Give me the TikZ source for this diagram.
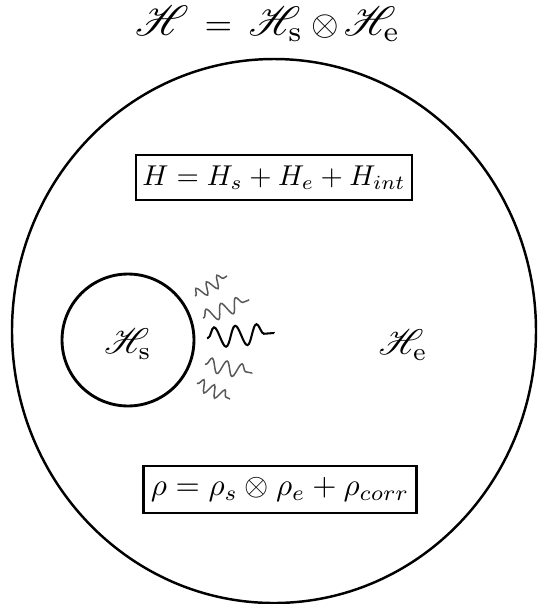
\documentclass[tikz,border=0pt]{standalone}
\usepackage{amsmath}
\usepackage{mathrsfs}
\usetikzlibrary{decorations.pathmorphing}
\tikzset{
  eqbox/.style={draw, line width=0.9pt, transform shape, inner ysep=0pt},
  txt/.style={inner sep=0pt},
  titlepart/.style={inner sep=0pt, anchor=base, transform shape},
  spacelabel/.style={inner sep=0pt, scale=1.3, transform shape},
  wave/.style={decorate, decoration={snake, segment length=4.5pt, amplitude=2.2pt, pre length=0.4pt, post length=0.4pt}, line width=0.55pt, black!65},
  bigwave/.style={decorate, decoration={snake, segment length=7.8pt, amplitude=3.7pt, pre length=0.4pt, post length=0.4pt}, line width=0.75pt, black}
}
\begin{document}
\begin{tikzpicture}[x=0.366pt, y=-0.366pt]
\useasboundingbox (0,0) rectangle (538,604);
% title
\node[titlepart, scale=1.55] (t1) at (162,35) {$\mathscr{H}$};
\node[titlepart, scale=1.3] (t2) at (218.5,35) {$=$};
\node[titlepart, scale=1.5] (t3) at (276,35) {$\mathscr{H}_\mathrm{s}$};
\node[titlepart, scale=1.3] (t4) at (325,35) {$\otimes$};
\node[titlepart, scale=1.5] (t5) at (372,35) {$\mathscr{H}_\mathrm{e}$};
% whole space
\draw[line width=0.9pt] (274,331) ellipse [x radius=262, y radius=272];
% system
\node[circle, draw, line width=1.05pt, minimum size=48.3pt, inner sep=0pt] (sys) at (128,340) {};
\node[spacelabel] (hs) at (128,344) {$\mathscr{H}_\mathrm{s}$};
\node[spacelabel] (he) at (403,345) {$\mathscr{H}_\mathrm{e}$};
% equations
\node[eqbox, scale=1.05, inner xsep=2.2pt, minimum height=15.7pt] (ham) at (274,177.5) {$H = H_s + H_e + H_{int}$};
\node[eqbox, scale=1.14, inner xsep=2.4pt, minimum height=15.1pt] (rho) at (280,489.5) {$\rho = \rho_s \otimes \rho_e + \rho_{corr}$};
% waves
\coordinate (w1a) at (195,296); \coordinate (w1b) at (227,276);
\coordinate (w2a) at (203,318); \coordinate (w2b) at (249,300);
\coordinate (w3a) at (207,338); \coordinate (w3b) at (274,333);
\coordinate (w4a) at (205,364); \coordinate (w4b) at (252,373);
\coordinate (w5a) at (197,383); \coordinate (w5b) at (230,399);
\draw[wave] (w1a) -- (w1b);
\draw[wave, decoration={segment length=5.8pt, amplitude=2.6pt}] (w2a) -- (w2b);
\draw[bigwave] (w3a) -- (w3b);
\draw[wave, decoration={segment length=5.6pt, amplitude=2.6pt}] (w4a) -- (w4b);
\draw[wave, decoration={segment length=4.3pt}] (w5a) -- (w5b);
\end{tikzpicture}
\end{document}
